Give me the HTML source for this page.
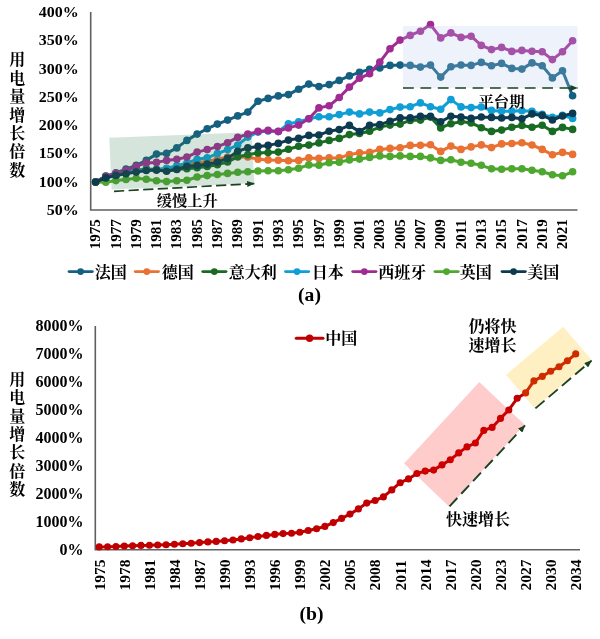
<!DOCTYPE html>
<html lang="zh"><head><meta charset="utf-8"><title>用电量增长倍数</title>
<style>html,body{margin:0;padding:0;background:#fff}body{width:600px;height:639px;overflow:hidden}svg{display:block}text{font-family:"Liberation Serif","Noto Serif CJK SC",serif;font-weight:bold;fill:#000}.t15{font-size:15px}.t14{font-size:14px}.t16{font-size:16px}.cn{font-size:16px}.cap{font-size:18.5px}.vt{writing-mode:vertical-rl;text-orientation:upright}</style></head><body>
<svg width="600" height="639" viewBox="0 0 600 639">
<rect width="600" height="639" fill="#fff"/>
<defs><marker id="ah" viewBox="0 0 10 8" refX="9.5" refY="4" markerWidth="8" markerHeight="6" markerUnits="userSpaceOnUse" orient="auto"><path d="M0,0 L10,4 L0,8 Z" fill="#1A4220"/></marker></defs>
<g id="chartA">
<path d="M90.7,12 V210 H577.5" fill="none" stroke="#606060" stroke-width="1.6"/>
<text class="t15" transform="translate(78.6,17.0) scale(1.065,1)" text-anchor="end">400%</text>
<text class="t15" transform="translate(78.6,45.3) scale(1.065,1)" text-anchor="end">350%</text>
<text class="t15" transform="translate(78.6,73.6) scale(1.065,1)" text-anchor="end">300%</text>
<text class="t15" transform="translate(78.6,101.9) scale(1.065,1)" text-anchor="end">250%</text>
<text class="t15" transform="translate(78.6,130.2) scale(1.065,1)" text-anchor="end">200%</text>
<text class="t15" transform="translate(78.6,158.4) scale(1.065,1)" text-anchor="end">150%</text>
<text class="t15" transform="translate(78.6,186.7) scale(1.065,1)" text-anchor="end">100%</text>
<text class="t15" transform="translate(78.6,215.0) scale(1.065,1)" text-anchor="end">50%</text>
<text class="cn vt" x="16.3" y="51.4" style="letter-spacing:2.4px">用电量增长倍数</text>
<text class="t14" transform="translate(95.6,249.2) rotate(-90) scale(1.075,1)" x="0" y="4.6">1975</text>
<text class="t14" transform="translate(115.9,249.2) rotate(-90) scale(1.075,1)" x="0" y="4.6">1977</text>
<text class="t14" transform="translate(136.2,249.2) rotate(-90) scale(1.075,1)" x="0" y="4.6">1979</text>
<text class="t14" transform="translate(156.5,249.2) rotate(-90) scale(1.075,1)" x="0" y="4.6">1981</text>
<text class="t14" transform="translate(176.8,249.2) rotate(-90) scale(1.075,1)" x="0" y="4.6">1983</text>
<text class="t14" transform="translate(197.1,249.2) rotate(-90) scale(1.075,1)" x="0" y="4.6">1985</text>
<text class="t14" transform="translate(217.4,249.2) rotate(-90) scale(1.075,1)" x="0" y="4.6">1987</text>
<text class="t14" transform="translate(237.7,249.2) rotate(-90) scale(1.075,1)" x="0" y="4.6">1989</text>
<text class="t14" transform="translate(258.0,249.2) rotate(-90) scale(1.075,1)" x="0" y="4.6">1991</text>
<text class="t14" transform="translate(278.3,249.2) rotate(-90) scale(1.075,1)" x="0" y="4.6">1993</text>
<text class="t14" transform="translate(298.6,249.2) rotate(-90) scale(1.075,1)" x="0" y="4.6">1995</text>
<text class="t14" transform="translate(318.9,249.2) rotate(-90) scale(1.075,1)" x="0" y="4.6">1997</text>
<text class="t14" transform="translate(339.2,249.2) rotate(-90) scale(1.075,1)" x="0" y="4.6">1999</text>
<text class="t14" transform="translate(359.5,249.2) rotate(-90) scale(1.075,1)" x="0" y="4.6">2001</text>
<text class="t14" transform="translate(379.8,249.2) rotate(-90) scale(1.075,1)" x="0" y="4.6">2003</text>
<text class="t14" transform="translate(400.1,249.2) rotate(-90) scale(1.075,1)" x="0" y="4.6">2005</text>
<text class="t14" transform="translate(420.4,249.2) rotate(-90) scale(1.075,1)" x="0" y="4.6">2007</text>
<text class="t14" transform="translate(440.7,249.2) rotate(-90) scale(1.075,1)" x="0" y="4.6">2009</text>
<text class="t14" transform="translate(461.0,249.2) rotate(-90) scale(1.075,1)" x="0" y="4.6">2011</text>
<text class="t14" transform="translate(481.3,249.2) rotate(-90) scale(1.075,1)" x="0" y="4.6">2013</text>
<text class="t14" transform="translate(501.6,249.2) rotate(-90) scale(1.075,1)" x="0" y="4.6">2015</text>
<text class="t14" transform="translate(521.9,249.2) rotate(-90) scale(1.075,1)" x="0" y="4.6">2017</text>
<text class="t14" transform="translate(542.2,249.2) rotate(-90) scale(1.075,1)" x="0" y="4.6">2019</text>
<text class="t14" transform="translate(562.5,249.2) rotate(-90) scale(1.075,1)" x="0" y="4.6">2021</text>
<polyline points="95.6,182.1 105.8,176.2 115.9,172.9 126.0,169.1 136.2,165.4 146.3,160.4 156.5,154.1 166.6,153.4 176.8,147.9 186.9,140.4 197.1,134.1 207.2,128.7 217.4,124.1 227.6,120.1 237.7,115.9 247.8,112.1 258.0,101.2 268.1,98.4 278.3,95.9 288.4,94.6 298.6,89.2 308.8,84.1 318.9,86.6 329.1,84.6 339.2,80.4 349.4,75.9 359.5,72.3 369.6,69.4 379.8,67.9 390.0,65.4 400.1,65.1 410.2,65.4 420.4,67.1 430.5,65.1 440.7,77.1 450.9,66.7 461.0,65.0 471.1,65.4 481.3,62.4 491.5,65.7 501.6,63.4 511.8,68.4 521.9,69.1 532.0,62.9 542.2,65.7 552.4,77.9 562.5,70.7 572.6,95.7" fill="none" stroke="#156082" stroke-width="3" stroke-linejoin="round" stroke-linecap="round"/>
<g fill="#156082"><circle cx="95.6" cy="182.1" r="3.8"/><circle cx="105.8" cy="176.2" r="3.8"/><circle cx="115.9" cy="172.9" r="3.8"/><circle cx="126.0" cy="169.1" r="3.8"/><circle cx="136.2" cy="165.4" r="3.8"/><circle cx="146.3" cy="160.4" r="3.8"/><circle cx="156.5" cy="154.1" r="3.8"/><circle cx="166.6" cy="153.4" r="3.8"/><circle cx="176.8" cy="147.9" r="3.8"/><circle cx="186.9" cy="140.4" r="3.8"/><circle cx="197.1" cy="134.1" r="3.8"/><circle cx="207.2" cy="128.7" r="3.8"/><circle cx="217.4" cy="124.1" r="3.8"/><circle cx="227.6" cy="120.1" r="3.8"/><circle cx="237.7" cy="115.9" r="3.8"/><circle cx="247.8" cy="112.1" r="3.8"/><circle cx="258.0" cy="101.2" r="3.8"/><circle cx="268.1" cy="98.4" r="3.8"/><circle cx="278.3" cy="95.9" r="3.8"/><circle cx="288.4" cy="94.6" r="3.8"/><circle cx="298.6" cy="89.2" r="3.8"/><circle cx="308.8" cy="84.1" r="3.8"/><circle cx="318.9" cy="86.6" r="3.8"/><circle cx="329.1" cy="84.6" r="3.8"/><circle cx="339.2" cy="80.4" r="3.8"/><circle cx="349.4" cy="75.9" r="3.8"/><circle cx="359.5" cy="72.3" r="3.8"/><circle cx="369.6" cy="69.4" r="3.8"/><circle cx="379.8" cy="67.9" r="3.8"/><circle cx="390.0" cy="65.4" r="3.8"/><circle cx="400.1" cy="65.1" r="3.8"/><circle cx="410.2" cy="65.4" r="3.8"/><circle cx="420.4" cy="67.1" r="3.8"/><circle cx="430.5" cy="65.1" r="3.8"/><circle cx="440.7" cy="77.1" r="3.8"/><circle cx="450.9" cy="66.7" r="3.8"/><circle cx="461.0" cy="65.0" r="3.8"/><circle cx="471.1" cy="65.4" r="3.8"/><circle cx="481.3" cy="62.4" r="3.8"/><circle cx="491.5" cy="65.7" r="3.8"/><circle cx="501.6" cy="63.4" r="3.8"/><circle cx="511.8" cy="68.4" r="3.8"/><circle cx="521.9" cy="69.1" r="3.8"/><circle cx="532.0" cy="62.9" r="3.8"/><circle cx="542.2" cy="65.7" r="3.8"/><circle cx="552.4" cy="77.9" r="3.8"/><circle cx="562.5" cy="70.7" r="3.8"/><circle cx="572.6" cy="95.7" r="3.8"/></g>
<polyline points="95.6,182.1 105.8,177.4 115.9,175.4 126.0,172.4 136.2,170.4 146.3,169.4 156.5,169.9 166.6,170.4 176.8,168.2 186.9,164.0 197.1,162.7 207.2,161.2 217.4,159.2 227.6,157.0 237.7,157.0 247.8,157.0 258.0,159.2 268.1,159.9 278.3,160.3 288.4,160.8 298.6,160.4 308.8,157.9 318.9,158.4 329.1,157.9 339.2,157.9 349.4,154.6 359.5,152.7 369.6,152.4 379.8,149.4 390.0,148.4 400.1,147.7 410.2,145.4 420.4,145.2 430.5,144.8 440.7,151.4 450.9,146.1 461.0,149.4 471.1,146.9 481.3,144.9 491.5,147.6 501.6,143.9 511.8,143.5 521.9,142.8 532.0,145.0 542.2,149.4 552.4,154.8 562.5,152.4 572.6,154.4" fill="none" stroke="#E97132" stroke-width="3" stroke-linejoin="round" stroke-linecap="round"/>
<g fill="#E97132"><circle cx="95.6" cy="182.1" r="3.8"/><circle cx="105.8" cy="177.4" r="3.8"/><circle cx="115.9" cy="175.4" r="3.8"/><circle cx="126.0" cy="172.4" r="3.8"/><circle cx="136.2" cy="170.4" r="3.8"/><circle cx="146.3" cy="169.4" r="3.8"/><circle cx="156.5" cy="169.9" r="3.8"/><circle cx="166.6" cy="170.4" r="3.8"/><circle cx="176.8" cy="168.2" r="3.8"/><circle cx="186.9" cy="164.0" r="3.8"/><circle cx="197.1" cy="162.7" r="3.8"/><circle cx="207.2" cy="161.2" r="3.8"/><circle cx="217.4" cy="159.2" r="3.8"/><circle cx="227.6" cy="157.0" r="3.8"/><circle cx="237.7" cy="157.0" r="3.8"/><circle cx="247.8" cy="157.0" r="3.8"/><circle cx="258.0" cy="159.2" r="3.8"/><circle cx="268.1" cy="159.9" r="3.8"/><circle cx="278.3" cy="160.3" r="3.8"/><circle cx="288.4" cy="160.8" r="3.8"/><circle cx="298.6" cy="160.4" r="3.8"/><circle cx="308.8" cy="157.9" r="3.8"/><circle cx="318.9" cy="158.4" r="3.8"/><circle cx="329.1" cy="157.9" r="3.8"/><circle cx="339.2" cy="157.9" r="3.8"/><circle cx="349.4" cy="154.6" r="3.8"/><circle cx="359.5" cy="152.7" r="3.8"/><circle cx="369.6" cy="152.4" r="3.8"/><circle cx="379.8" cy="149.4" r="3.8"/><circle cx="390.0" cy="148.4" r="3.8"/><circle cx="400.1" cy="147.7" r="3.8"/><circle cx="410.2" cy="145.4" r="3.8"/><circle cx="420.4" cy="145.2" r="3.8"/><circle cx="430.5" cy="144.8" r="3.8"/><circle cx="440.7" cy="151.4" r="3.8"/><circle cx="450.9" cy="146.1" r="3.8"/><circle cx="461.0" cy="149.4" r="3.8"/><circle cx="471.1" cy="146.9" r="3.8"/><circle cx="481.3" cy="144.9" r="3.8"/><circle cx="491.5" cy="147.6" r="3.8"/><circle cx="501.6" cy="143.9" r="3.8"/><circle cx="511.8" cy="143.5" r="3.8"/><circle cx="521.9" cy="142.8" r="3.8"/><circle cx="532.0" cy="145.0" r="3.8"/><circle cx="542.2" cy="149.4" r="3.8"/><circle cx="552.4" cy="154.8" r="3.8"/><circle cx="562.5" cy="152.4" r="3.8"/><circle cx="572.6" cy="154.4" r="3.8"/></g>
<polyline points="95.6,182.1 105.8,176.0 115.9,174.7 126.0,172.4 136.2,170.4 146.3,168.9 156.5,169.4 166.6,168.8 176.8,169.2 186.9,168.7 197.1,167.7 207.2,166.4 217.4,164.7 227.6,161.9 237.7,156.8 247.8,154.7 258.0,153.0 268.1,152.6 278.3,152.1 288.4,149.2 298.6,146.2 308.8,145.1 318.9,142.9 329.1,140.4 339.2,138.4 349.4,134.6 359.5,133.5 369.6,131.2 379.8,127.1 390.0,125.1 400.1,124.1 410.2,120.4 420.4,120.1 430.5,117.1 440.7,127.9 450.9,123.7 461.0,121.6 471.1,122.9 481.3,127.7 491.5,131.4 501.6,130.1 511.8,127.2 521.9,125.4 532.0,127.2 542.2,125.2 552.4,131.4 562.5,127.4 572.6,129.4" fill="none" stroke="#196B24" stroke-width="3" stroke-linejoin="round" stroke-linecap="round"/>
<g fill="#196B24"><circle cx="95.6" cy="182.1" r="3.8"/><circle cx="105.8" cy="176.0" r="3.8"/><circle cx="115.9" cy="174.7" r="3.8"/><circle cx="126.0" cy="172.4" r="3.8"/><circle cx="136.2" cy="170.4" r="3.8"/><circle cx="146.3" cy="168.9" r="3.8"/><circle cx="156.5" cy="169.4" r="3.8"/><circle cx="166.6" cy="168.8" r="3.8"/><circle cx="176.8" cy="169.2" r="3.8"/><circle cx="186.9" cy="168.7" r="3.8"/><circle cx="197.1" cy="167.7" r="3.8"/><circle cx="207.2" cy="166.4" r="3.8"/><circle cx="217.4" cy="164.7" r="3.8"/><circle cx="227.6" cy="161.9" r="3.8"/><circle cx="237.7" cy="156.8" r="3.8"/><circle cx="247.8" cy="154.7" r="3.8"/><circle cx="258.0" cy="153.0" r="3.8"/><circle cx="268.1" cy="152.6" r="3.8"/><circle cx="278.3" cy="152.1" r="3.8"/><circle cx="288.4" cy="149.2" r="3.8"/><circle cx="298.6" cy="146.2" r="3.8"/><circle cx="308.8" cy="145.1" r="3.8"/><circle cx="318.9" cy="142.9" r="3.8"/><circle cx="329.1" cy="140.4" r="3.8"/><circle cx="339.2" cy="138.4" r="3.8"/><circle cx="349.4" cy="134.6" r="3.8"/><circle cx="359.5" cy="133.5" r="3.8"/><circle cx="369.6" cy="131.2" r="3.8"/><circle cx="379.8" cy="127.1" r="3.8"/><circle cx="390.0" cy="125.1" r="3.8"/><circle cx="400.1" cy="124.1" r="3.8"/><circle cx="410.2" cy="120.4" r="3.8"/><circle cx="420.4" cy="120.1" r="3.8"/><circle cx="430.5" cy="117.1" r="3.8"/><circle cx="440.7" cy="127.9" r="3.8"/><circle cx="450.9" cy="123.7" r="3.8"/><circle cx="461.0" cy="121.6" r="3.8"/><circle cx="471.1" cy="122.9" r="3.8"/><circle cx="481.3" cy="127.7" r="3.8"/><circle cx="491.5" cy="131.4" r="3.8"/><circle cx="501.6" cy="130.1" r="3.8"/><circle cx="511.8" cy="127.2" r="3.8"/><circle cx="521.9" cy="125.4" r="3.8"/><circle cx="532.0" cy="127.2" r="3.8"/><circle cx="542.2" cy="125.2" r="3.8"/><circle cx="552.4" cy="131.4" r="3.8"/><circle cx="562.5" cy="127.4" r="3.8"/><circle cx="572.6" cy="129.4" r="3.8"/></g>
<polyline points="95.6,182.1 105.8,177.9 115.9,175.9 126.0,172.9 136.2,170.4 146.3,169.9 156.5,169.7 166.6,168.4 176.8,165.6 186.9,163.1 197.1,159.2 207.2,157.8 217.4,153.6 227.6,149.6 237.7,145.0 247.8,137.1 258.0,132.1 268.1,131.0 278.3,131.6 288.4,123.7 298.6,121.9 308.8,118.7 318.9,116.7 329.1,116.7 339.2,114.6 349.4,112.1 359.5,113.9 369.6,112.1 379.8,112.9 390.0,109.6 400.1,107.1 410.2,106.7 420.4,102.9 430.5,106.7 440.7,109.2 450.9,99.6 461.0,106.9 471.1,107.6 481.3,107.0 491.5,110.4 501.6,111.3 511.8,111.1 521.9,110.7 532.0,111.2 542.2,114.4 552.4,117.4 562.5,115.4 572.6,118.4" fill="none" stroke="#0F9ED5" stroke-width="3" stroke-linejoin="round" stroke-linecap="round"/>
<g fill="#0F9ED5"><circle cx="95.6" cy="182.1" r="3.8"/><circle cx="105.8" cy="177.9" r="3.8"/><circle cx="115.9" cy="175.9" r="3.8"/><circle cx="126.0" cy="172.9" r="3.8"/><circle cx="136.2" cy="170.4" r="3.8"/><circle cx="146.3" cy="169.9" r="3.8"/><circle cx="156.5" cy="169.7" r="3.8"/><circle cx="166.6" cy="168.4" r="3.8"/><circle cx="176.8" cy="165.6" r="3.8"/><circle cx="186.9" cy="163.1" r="3.8"/><circle cx="197.1" cy="159.2" r="3.8"/><circle cx="207.2" cy="157.8" r="3.8"/><circle cx="217.4" cy="153.6" r="3.8"/><circle cx="227.6" cy="149.6" r="3.8"/><circle cx="237.7" cy="145.0" r="3.8"/><circle cx="247.8" cy="137.1" r="3.8"/><circle cx="258.0" cy="132.1" r="3.8"/><circle cx="268.1" cy="131.0" r="3.8"/><circle cx="278.3" cy="131.6" r="3.8"/><circle cx="288.4" cy="123.7" r="3.8"/><circle cx="298.6" cy="121.9" r="3.8"/><circle cx="308.8" cy="118.7" r="3.8"/><circle cx="318.9" cy="116.7" r="3.8"/><circle cx="329.1" cy="116.7" r="3.8"/><circle cx="339.2" cy="114.6" r="3.8"/><circle cx="349.4" cy="112.1" r="3.8"/><circle cx="359.5" cy="113.9" r="3.8"/><circle cx="369.6" cy="112.1" r="3.8"/><circle cx="379.8" cy="112.9" r="3.8"/><circle cx="390.0" cy="109.6" r="3.8"/><circle cx="400.1" cy="107.1" r="3.8"/><circle cx="410.2" cy="106.7" r="3.8"/><circle cx="420.4" cy="102.9" r="3.8"/><circle cx="430.5" cy="106.7" r="3.8"/><circle cx="440.7" cy="109.2" r="3.8"/><circle cx="450.9" cy="99.6" r="3.8"/><circle cx="461.0" cy="106.9" r="3.8"/><circle cx="471.1" cy="107.6" r="3.8"/><circle cx="481.3" cy="107.0" r="3.8"/><circle cx="491.5" cy="110.4" r="3.8"/><circle cx="501.6" cy="111.3" r="3.8"/><circle cx="511.8" cy="111.1" r="3.8"/><circle cx="521.9" cy="110.7" r="3.8"/><circle cx="532.0" cy="111.2" r="3.8"/><circle cx="542.2" cy="114.4" r="3.8"/><circle cx="552.4" cy="117.4" r="3.8"/><circle cx="562.5" cy="115.4" r="3.8"/><circle cx="572.6" cy="118.4" r="3.8"/></g>
<polyline points="95.6,182.1 105.8,176.9 115.9,173.4 126.0,170.4 136.2,166.4 146.3,162.9 156.5,162.4 166.6,160.4 176.8,159.2 186.9,157.1 197.1,152.1 207.2,149.6 217.4,146.6 227.6,142.7 237.7,137.4 247.8,134.1 258.0,131.4 268.1,130.4 278.3,131.4 288.4,127.9 298.6,125.1 308.8,118.7 318.9,107.9 329.1,105.8 339.2,97.5 349.4,87.1 359.5,78.2 369.6,73.8 379.8,62.1 390.0,48.7 400.1,40.1 410.2,35.4 420.4,31.2 430.5,24.6 440.7,37.9 450.9,32.9 461.0,37.4 471.1,36.2 481.3,45.4 491.5,49.6 501.6,47.4 511.8,51.4 521.9,50.4 532.0,51.2 542.2,51.7 552.4,59.6 562.5,51.7 572.6,40.7" fill="none" stroke="#A02B93" stroke-width="3" stroke-linejoin="round" stroke-linecap="round"/>
<g fill="#A02B93"><circle cx="95.6" cy="182.1" r="3.8"/><circle cx="105.8" cy="176.9" r="3.8"/><circle cx="115.9" cy="173.4" r="3.8"/><circle cx="126.0" cy="170.4" r="3.8"/><circle cx="136.2" cy="166.4" r="3.8"/><circle cx="146.3" cy="162.9" r="3.8"/><circle cx="156.5" cy="162.4" r="3.8"/><circle cx="166.6" cy="160.4" r="3.8"/><circle cx="176.8" cy="159.2" r="3.8"/><circle cx="186.9" cy="157.1" r="3.8"/><circle cx="197.1" cy="152.1" r="3.8"/><circle cx="207.2" cy="149.6" r="3.8"/><circle cx="217.4" cy="146.6" r="3.8"/><circle cx="227.6" cy="142.7" r="3.8"/><circle cx="237.7" cy="137.4" r="3.8"/><circle cx="247.8" cy="134.1" r="3.8"/><circle cx="258.0" cy="131.4" r="3.8"/><circle cx="268.1" cy="130.4" r="3.8"/><circle cx="278.3" cy="131.4" r="3.8"/><circle cx="288.4" cy="127.9" r="3.8"/><circle cx="298.6" cy="125.1" r="3.8"/><circle cx="308.8" cy="118.7" r="3.8"/><circle cx="318.9" cy="107.9" r="3.8"/><circle cx="329.1" cy="105.8" r="3.8"/><circle cx="339.2" cy="97.5" r="3.8"/><circle cx="349.4" cy="87.1" r="3.8"/><circle cx="359.5" cy="78.2" r="3.8"/><circle cx="369.6" cy="73.8" r="3.8"/><circle cx="379.8" cy="62.1" r="3.8"/><circle cx="390.0" cy="48.7" r="3.8"/><circle cx="400.1" cy="40.1" r="3.8"/><circle cx="410.2" cy="35.4" r="3.8"/><circle cx="420.4" cy="31.2" r="3.8"/><circle cx="430.5" cy="24.6" r="3.8"/><circle cx="440.7" cy="37.9" r="3.8"/><circle cx="450.9" cy="32.9" r="3.8"/><circle cx="461.0" cy="37.4" r="3.8"/><circle cx="471.1" cy="36.2" r="3.8"/><circle cx="481.3" cy="45.4" r="3.8"/><circle cx="491.5" cy="49.6" r="3.8"/><circle cx="501.6" cy="47.4" r="3.8"/><circle cx="511.8" cy="51.4" r="3.8"/><circle cx="521.9" cy="50.4" r="3.8"/><circle cx="532.0" cy="51.2" r="3.8"/><circle cx="542.2" cy="51.7" r="3.8"/><circle cx="552.4" cy="59.6" r="3.8"/><circle cx="562.5" cy="51.7" r="3.8"/><circle cx="572.6" cy="40.7" r="3.8"/></g>
<polyline points="95.6,182.1 105.8,182.3 115.9,180.6 126.0,179.4 136.2,178.2 146.3,179.2 156.5,180.7 166.6,181.6 176.8,180.8 186.9,180.3 197.1,177.0 207.2,175.6 217.4,174.5 227.6,173.4 237.7,172.3 247.8,171.8 258.0,171.0 268.1,170.8 278.3,170.7 288.4,169.8 298.6,168.2 308.8,164.9 318.9,165.3 329.1,162.8 339.2,162.3 349.4,159.9 359.5,159.1 369.6,157.4 379.8,155.9 390.0,156.4 400.1,155.9 410.2,156.4 420.4,156.4 430.5,157.9 440.7,160.4 450.9,159.7 461.0,162.2 471.1,163.2 481.3,165.3 491.5,168.8 501.6,169.2 511.8,168.8 521.9,168.8 532.0,170.2 542.2,171.8 552.4,174.8 562.5,175.8 572.6,171.8" fill="none" stroke="#4EA72E" stroke-width="3" stroke-linejoin="round" stroke-linecap="round"/>
<g fill="#4EA72E"><circle cx="95.6" cy="182.1" r="3.8"/><circle cx="105.8" cy="182.3" r="3.8"/><circle cx="115.9" cy="180.6" r="3.8"/><circle cx="126.0" cy="179.4" r="3.8"/><circle cx="136.2" cy="178.2" r="3.8"/><circle cx="146.3" cy="179.2" r="3.8"/><circle cx="156.5" cy="180.7" r="3.8"/><circle cx="166.6" cy="181.6" r="3.8"/><circle cx="176.8" cy="180.8" r="3.8"/><circle cx="186.9" cy="180.3" r="3.8"/><circle cx="197.1" cy="177.0" r="3.8"/><circle cx="207.2" cy="175.6" r="3.8"/><circle cx="217.4" cy="174.5" r="3.8"/><circle cx="227.6" cy="173.4" r="3.8"/><circle cx="237.7" cy="172.3" r="3.8"/><circle cx="247.8" cy="171.8" r="3.8"/><circle cx="258.0" cy="171.0" r="3.8"/><circle cx="268.1" cy="170.8" r="3.8"/><circle cx="278.3" cy="170.7" r="3.8"/><circle cx="288.4" cy="169.8" r="3.8"/><circle cx="298.6" cy="168.2" r="3.8"/><circle cx="308.8" cy="164.9" r="3.8"/><circle cx="318.9" cy="165.3" r="3.8"/><circle cx="329.1" cy="162.8" r="3.8"/><circle cx="339.2" cy="162.3" r="3.8"/><circle cx="349.4" cy="159.9" r="3.8"/><circle cx="359.5" cy="159.1" r="3.8"/><circle cx="369.6" cy="157.4" r="3.8"/><circle cx="379.8" cy="155.9" r="3.8"/><circle cx="390.0" cy="156.4" r="3.8"/><circle cx="400.1" cy="155.9" r="3.8"/><circle cx="410.2" cy="156.4" r="3.8"/><circle cx="420.4" cy="156.4" r="3.8"/><circle cx="430.5" cy="157.9" r="3.8"/><circle cx="440.7" cy="160.4" r="3.8"/><circle cx="450.9" cy="159.7" r="3.8"/><circle cx="461.0" cy="162.2" r="3.8"/><circle cx="471.1" cy="163.2" r="3.8"/><circle cx="481.3" cy="165.3" r="3.8"/><circle cx="491.5" cy="168.8" r="3.8"/><circle cx="501.6" cy="169.2" r="3.8"/><circle cx="511.8" cy="168.8" r="3.8"/><circle cx="521.9" cy="168.8" r="3.8"/><circle cx="532.0" cy="170.2" r="3.8"/><circle cx="542.2" cy="171.8" r="3.8"/><circle cx="552.4" cy="174.8" r="3.8"/><circle cx="562.5" cy="175.8" r="3.8"/><circle cx="572.6" cy="171.8" r="3.8"/></g>
<polyline points="95.6,182.1 105.8,177.9 115.9,175.4 126.0,173.7 136.2,172.1 146.3,170.5 156.5,170.1 166.6,171.2 176.8,169.4 186.9,166.2 197.1,165.4 207.2,164.1 217.4,162.1 227.6,158.4 237.7,151.2 247.8,147.9 258.0,146.4 268.1,145.4 278.3,143.4 288.4,140.1 298.6,138.4 308.8,135.4 318.9,135.1 329.1,131.2 339.2,129.6 349.4,125.4 359.5,131.6 369.6,125.2 379.8,124.6 390.0,121.2 400.1,117.9 410.2,117.9 420.4,116.2 430.5,116.2 440.7,121.7 450.9,116.2 461.0,117.1 471.1,118.4 481.3,117.0 491.5,117.4 501.6,118.0 511.8,117.4 521.9,118.8 532.0,113.9 542.2,115.4 552.4,120.0 562.5,116.0 572.6,113.4" fill="none" stroke="#0D3A4E" stroke-width="3" stroke-linejoin="round" stroke-linecap="round"/>
<g fill="#0D3A4E"><circle cx="95.6" cy="182.1" r="3.8"/><circle cx="105.8" cy="177.9" r="3.8"/><circle cx="115.9" cy="175.4" r="3.8"/><circle cx="126.0" cy="173.7" r="3.8"/><circle cx="136.2" cy="172.1" r="3.8"/><circle cx="146.3" cy="170.5" r="3.8"/><circle cx="156.5" cy="170.1" r="3.8"/><circle cx="166.6" cy="171.2" r="3.8"/><circle cx="176.8" cy="169.4" r="3.8"/><circle cx="186.9" cy="166.2" r="3.8"/><circle cx="197.1" cy="165.4" r="3.8"/><circle cx="207.2" cy="164.1" r="3.8"/><circle cx="217.4" cy="162.1" r="3.8"/><circle cx="227.6" cy="158.4" r="3.8"/><circle cx="237.7" cy="151.2" r="3.8"/><circle cx="247.8" cy="147.9" r="3.8"/><circle cx="258.0" cy="146.4" r="3.8"/><circle cx="268.1" cy="145.4" r="3.8"/><circle cx="278.3" cy="143.4" r="3.8"/><circle cx="288.4" cy="140.1" r="3.8"/><circle cx="298.6" cy="138.4" r="3.8"/><circle cx="308.8" cy="135.4" r="3.8"/><circle cx="318.9" cy="135.1" r="3.8"/><circle cx="329.1" cy="131.2" r="3.8"/><circle cx="339.2" cy="129.6" r="3.8"/><circle cx="349.4" cy="125.4" r="3.8"/><circle cx="359.5" cy="131.6" r="3.8"/><circle cx="369.6" cy="125.2" r="3.8"/><circle cx="379.8" cy="124.6" r="3.8"/><circle cx="390.0" cy="121.2" r="3.8"/><circle cx="400.1" cy="117.9" r="3.8"/><circle cx="410.2" cy="117.9" r="3.8"/><circle cx="420.4" cy="116.2" r="3.8"/><circle cx="430.5" cy="116.2" r="3.8"/><circle cx="440.7" cy="121.7" r="3.8"/><circle cx="450.9" cy="116.2" r="3.8"/><circle cx="461.0" cy="117.1" r="3.8"/><circle cx="471.1" cy="118.4" r="3.8"/><circle cx="481.3" cy="117.0" r="3.8"/><circle cx="491.5" cy="117.4" r="3.8"/><circle cx="501.6" cy="118.0" r="3.8"/><circle cx="511.8" cy="117.4" r="3.8"/><circle cx="521.9" cy="118.8" r="3.8"/><circle cx="532.0" cy="113.9" r="3.8"/><circle cx="542.2" cy="115.4" r="3.8"/><circle cx="552.4" cy="120.0" r="3.8"/><circle cx="562.5" cy="116.0" r="3.8"/><circle cx="572.6" cy="113.4" r="3.8"/></g>
<polygon points="109.3,137.8 251.5,132.2 254.3,183.2 111.6,189.6" fill="#327D4B" fill-opacity="0.20"/>
<line x1="114" y1="191.3" x2="254.3" y2="183.6" stroke="#1A4220" stroke-width="1.7" stroke-dasharray="10.2,4.4" marker-end="url(#ah)"/>
<text class="cn" style="font-size:15.3px" x="187.3" y="205.5" text-anchor="middle">缓慢上升</text>
<rect x="403" y="26" width="174.5" height="62" fill="#B6CBF0" fill-opacity="0.24"/>
<line x1="403" y1="88" x2="577.5" y2="88" stroke="#1A4220" stroke-width="1.7" stroke-dasharray="10.8,6.6" marker-end="url(#ah)"/>
<text class="cn" style="font-size:15.3px" x="501.5" y="106.5" text-anchor="middle">平台期</text>
<line x1="69.1" y1="271.6" x2="92.3" y2="271.6" stroke="#156082" stroke-width="2.9" stroke-linecap="round"/>
<circle cx="80.6" cy="271.6" r="3.4" fill="#156082"/>
<text class="cn" x="94.8" y="278.2">法国</text>
<line x1="135.3" y1="271.6" x2="158.5" y2="271.6" stroke="#E97132" stroke-width="2.9" stroke-linecap="round"/>
<circle cx="146.8" cy="271.6" r="3.4" fill="#E97132"/>
<text class="cn" x="161.8" y="278.2">德国</text>
<line x1="202.8" y1="271.6" x2="226.0" y2="271.6" stroke="#196B24" stroke-width="2.9" stroke-linecap="round"/>
<circle cx="214.3" cy="271.6" r="3.4" fill="#196B24"/>
<text class="cn" x="228.8" y="278.2">意大利</text>
<line x1="285.5" y1="271.6" x2="308.7" y2="271.6" stroke="#0F9ED5" stroke-width="2.9" stroke-linecap="round"/>
<circle cx="297.0" cy="271.6" r="3.4" fill="#0F9ED5"/>
<text class="cn" x="311.8" y="278.2">日本</text>
<line x1="352.8" y1="271.6" x2="376.0" y2="271.6" stroke="#A02B93" stroke-width="2.9" stroke-linecap="round"/>
<circle cx="364.3" cy="271.6" r="3.4" fill="#A02B93"/>
<text class="cn" x="378.3" y="278.2">西班牙</text>
<line x1="435.0" y1="271.6" x2="458.2" y2="271.6" stroke="#4EA72E" stroke-width="2.9" stroke-linecap="round"/>
<circle cx="446.5" cy="271.6" r="3.4" fill="#4EA72E"/>
<text class="cn" x="459.8" y="278.2">英国</text>
<line x1="502.1" y1="271.6" x2="525.3" y2="271.6" stroke="#0D3A4E" stroke-width="2.9" stroke-linecap="round"/>
<circle cx="513.6" cy="271.6" r="3.4" fill="#0D3A4E"/>
<text class="cn" x="527.3" y="278.2">美国</text>
<text class="cap" transform="translate(309.5,301.3) scale(1.06,1)" text-anchor="middle">(a)</text>
</g>
<g id="chartB">
<path d="M95.3,326 V549.7 H580" fill="none" stroke="#606060" stroke-width="1.6"/>
<text class="t16" x="83.6" y="554.9" text-anchor="end">0%</text>
<text class="t16" x="83.6" y="527.0" text-anchor="end">1000%</text>
<text class="t16" x="83.6" y="499.0" text-anchor="end">2000%</text>
<text class="t16" x="83.6" y="471.1" text-anchor="end">3000%</text>
<text class="t16" x="83.6" y="443.1" text-anchor="end">4000%</text>
<text class="t16" x="83.6" y="415.2" text-anchor="end">5000%</text>
<text class="t16" x="83.6" y="387.3" text-anchor="end">6000%</text>
<text class="t16" x="83.6" y="359.3" text-anchor="end">7000%</text>
<text class="t16" x="83.6" y="331.4" text-anchor="end">8000%</text>
<text class="cn vt" x="16.3" y="371.1" style="letter-spacing:2.3px">用电量增长倍数</text>
<text class="t16" style="font-size:15.5px" transform="translate(99.2,590.5) rotate(-90)" x="0" y="5.3">1975</text>
<text class="t16" style="font-size:15.5px" transform="translate(124.3,590.5) rotate(-90)" x="0" y="5.3">1978</text>
<text class="t16" style="font-size:15.5px" transform="translate(149.4,590.5) rotate(-90)" x="0" y="5.3">1981</text>
<text class="t16" style="font-size:15.5px" transform="translate(174.4,590.5) rotate(-90)" x="0" y="5.3">1984</text>
<text class="t16" style="font-size:15.5px" transform="translate(199.5,590.5) rotate(-90)" x="0" y="5.3">1987</text>
<text class="t16" style="font-size:15.5px" transform="translate(224.6,590.5) rotate(-90)" x="0" y="5.3">1990</text>
<text class="t16" style="font-size:15.5px" transform="translate(249.7,590.5) rotate(-90)" x="0" y="5.3">1993</text>
<text class="t16" style="font-size:15.5px" transform="translate(274.8,590.5) rotate(-90)" x="0" y="5.3">1996</text>
<text class="t16" style="font-size:15.5px" transform="translate(299.8,590.5) rotate(-90)" x="0" y="5.3">1999</text>
<text class="t16" style="font-size:15.5px" transform="translate(324.9,590.5) rotate(-90)" x="0" y="5.3">2002</text>
<text class="t16" style="font-size:15.5px" transform="translate(350.0,590.5) rotate(-90)" x="0" y="5.3">2005</text>
<text class="t16" style="font-size:15.5px" transform="translate(375.1,590.5) rotate(-90)" x="0" y="5.3">2008</text>
<text class="t16" style="font-size:15.5px" transform="translate(400.2,590.5) rotate(-90)" x="0" y="5.3">2011</text>
<text class="t16" style="font-size:15.5px" transform="translate(425.2,590.5) rotate(-90)" x="0" y="5.3">2014</text>
<text class="t16" style="font-size:15.5px" transform="translate(450.3,590.5) rotate(-90)" x="0" y="5.3">2017</text>
<text class="t16" style="font-size:15.5px" transform="translate(475.4,590.5) rotate(-90)" x="0" y="5.3">2020</text>
<text class="t16" style="font-size:15.5px" transform="translate(500.5,590.5) rotate(-90)" x="0" y="5.3">2023</text>
<text class="t16" style="font-size:15.5px" transform="translate(525.6,590.5) rotate(-90)" x="0" y="5.3">2027</text>
<text class="t16" style="font-size:15.5px" transform="translate(550.6,590.5) rotate(-90)" x="0" y="5.3">2030</text>
<text class="t16" style="font-size:15.5px" transform="translate(575.7,590.5) rotate(-90)" x="0" y="5.3">2034</text>
<polyline points="99.2,546.9 107.6,546.8 115.9,546.5 124.3,546.0 132.6,545.7 141.0,545.4 149.4,545.3 157.7,545.0 166.1,544.7 174.4,544.3 182.8,543.8 191.2,543.3 199.5,542.6 207.9,541.9 216.2,541.4 224.6,540.8 233.0,540.0 241.3,538.9 249.7,537.7 258.0,536.5 266.4,535.4 274.8,534.4 283.1,533.6 291.5,533.2 299.8,532.2 308.2,530.5 316.6,528.8 324.9,526.4 333.3,522.6 341.6,518.4 350.0,514.1 358.4,508.9 366.7,503.1 375.1,500.5 383.4,496.9 391.8,489.9 400.2,482.7 408.5,478.9 416.9,473.5 425.2,471.1 433.6,470.1 442.0,464.9 450.3,459.8 458.7,452.9 467.0,446.9 475.4,443.0 483.8,430.4 492.1,427.4 500.5,418.4 508.8,410.0 517.2,398.3 525.6,392.9 533.9,380.9 542.3,376.4 550.6,371.3 559.0,366.8 567.4,360.8 575.7,353.9" fill="none" stroke="#C00000" stroke-width="3" stroke-linejoin="round" stroke-linecap="round"/>
<g fill="#C00000"><circle cx="99.2" cy="546.9" r="3.55"/><circle cx="107.6" cy="546.8" r="3.55"/><circle cx="115.9" cy="546.5" r="3.55"/><circle cx="124.3" cy="546.0" r="3.55"/><circle cx="132.6" cy="545.7" r="3.55"/><circle cx="141.0" cy="545.4" r="3.55"/><circle cx="149.4" cy="545.3" r="3.55"/><circle cx="157.7" cy="545.0" r="3.55"/><circle cx="166.1" cy="544.7" r="3.55"/><circle cx="174.4" cy="544.3" r="3.55"/><circle cx="182.8" cy="543.8" r="3.55"/><circle cx="191.2" cy="543.3" r="3.55"/><circle cx="199.5" cy="542.6" r="3.55"/><circle cx="207.9" cy="541.9" r="3.55"/><circle cx="216.2" cy="541.4" r="3.55"/><circle cx="224.6" cy="540.8" r="3.55"/><circle cx="233.0" cy="540.0" r="3.55"/><circle cx="241.3" cy="538.9" r="3.55"/><circle cx="249.7" cy="537.7" r="3.55"/><circle cx="258.0" cy="536.5" r="3.55"/><circle cx="266.4" cy="535.4" r="3.55"/><circle cx="274.8" cy="534.4" r="3.55"/><circle cx="283.1" cy="533.6" r="3.55"/><circle cx="291.5" cy="533.2" r="3.55"/><circle cx="299.8" cy="532.2" r="3.55"/><circle cx="308.2" cy="530.5" r="3.55"/><circle cx="316.6" cy="528.8" r="3.55"/><circle cx="324.9" cy="526.4" r="3.55"/><circle cx="333.3" cy="522.6" r="3.55"/><circle cx="341.6" cy="518.4" r="3.55"/><circle cx="350.0" cy="514.1" r="3.55"/><circle cx="358.4" cy="508.9" r="3.55"/><circle cx="366.7" cy="503.1" r="3.55"/><circle cx="375.1" cy="500.5" r="3.55"/><circle cx="383.4" cy="496.9" r="3.55"/><circle cx="391.8" cy="489.9" r="3.55"/><circle cx="400.2" cy="482.7" r="3.55"/><circle cx="408.5" cy="478.9" r="3.55"/><circle cx="416.9" cy="473.5" r="3.55"/><circle cx="425.2" cy="471.1" r="3.55"/><circle cx="433.6" cy="470.1" r="3.55"/><circle cx="442.0" cy="464.9" r="3.55"/><circle cx="450.3" cy="459.8" r="3.55"/><circle cx="458.7" cy="452.9" r="3.55"/><circle cx="467.0" cy="446.9" r="3.55"/><circle cx="475.4" cy="443.0" r="3.55"/><circle cx="483.8" cy="430.4" r="3.55"/><circle cx="492.1" cy="427.4" r="3.55"/><circle cx="500.5" cy="418.4" r="3.55"/><circle cx="508.8" cy="410.0" r="3.55"/><circle cx="517.2" cy="398.3" r="3.55"/><circle cx="525.6" cy="392.9" r="3.55"/><circle cx="533.9" cy="380.9" r="3.55"/><circle cx="542.3" cy="376.4" r="3.55"/><circle cx="550.6" cy="371.3" r="3.55"/><circle cx="559.0" cy="366.8" r="3.55"/><circle cx="567.4" cy="360.8" r="3.55"/><circle cx="575.7" cy="353.9" r="3.55"/></g>
<polygon points="479.3,382.1 524.6,424.6 449.2,506.7 404,463.5" fill="#FF0000" fill-opacity="0.20"/>
<line x1="449.5" y1="506.4" x2="525" y2="425.4" stroke="#1A4220" stroke-width="1.9" stroke-dasharray="11.5,5.8" marker-end="url(#ah)"/>
<text class="cn" x="478" y="525.3" text-anchor="middle">快速增长</text>
<polygon points="563.2,326.8 591.6,359.8 534.6,408.3 506,374.8" fill="#FFC000" fill-opacity="0.23"/>
<line x1="535.4" y1="408.4" x2="591.6" y2="360.6" stroke="#1A4220" stroke-width="1.9" stroke-dasharray="12,5.4" marker-end="url(#ah)"/>
<text class="cn" x="492.5" y="332" text-anchor="middle">仍将快</text>
<text class="cn" x="492.5" y="351" text-anchor="middle">速增长</text>
<line x1="296.3" y1="338.3" x2="323" y2="338.3" stroke="#C00000" stroke-width="3" stroke-linecap="round"/>
<circle cx="309.6" cy="338.3" r="3.7" fill="#C00000"/>
<text class="cn" x="325.3" y="344">中国</text>
<text class="cap" transform="translate(311.5,620.3) scale(1.06,1)" text-anchor="middle">(b)</text>
</g>
</svg></body></html>
